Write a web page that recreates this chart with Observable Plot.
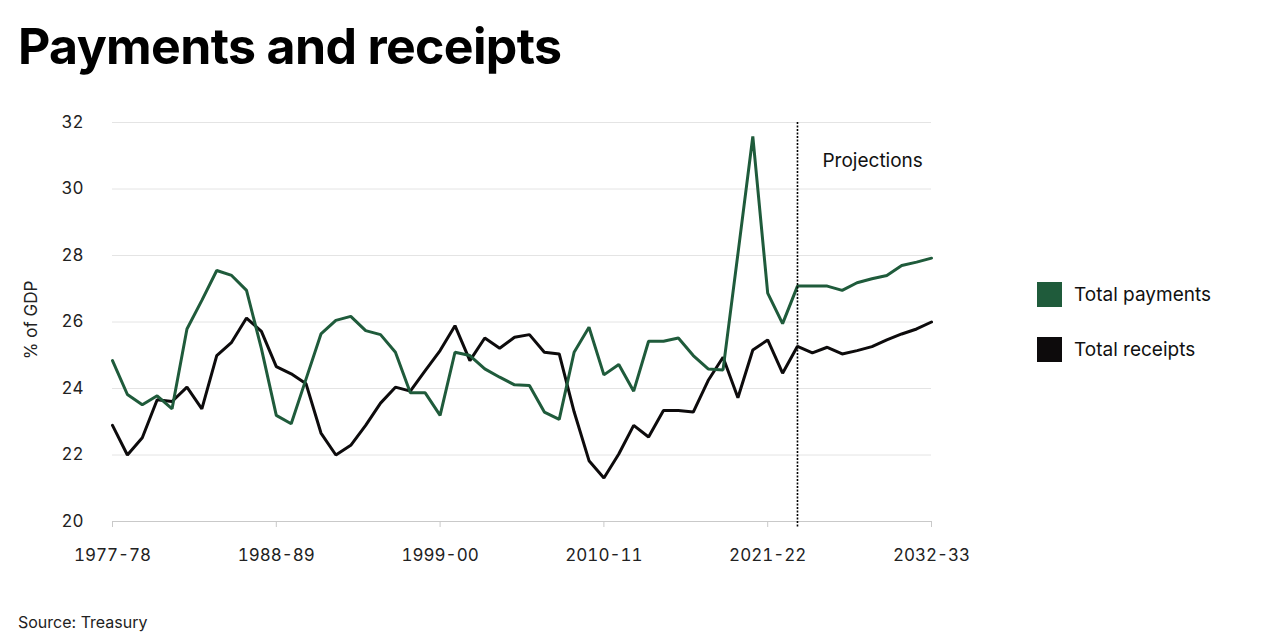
<!DOCTYPE html>
<html>
<head>
<meta charset="utf-8">
<script src="https://cdn.jsdelivr.net/npm/d3@7"></script>
<script src="https://cdn.jsdelivr.net/npm/@observablehq/plot@0.6"></script>
<style>
  html, body { margin: 0; padding: 0; background: #fff; }
  #wrap { position: relative; width: 1280px; height: 640px; overflow: hidden; font-family: Inter, "Noto Sans", sans-serif; color: #111; }
  #title { position: absolute; left: 18px; top: 16px; margin: 0; font-size: 50px; font-weight: 700; line-height: 60px; letter-spacing: -0.65px; color: #000; }
  #chart { position: absolute; left: 0; top: 90px; }
  #ylabel { position: absolute; left: 31px; top: 320px; transform: translate(-50%, -50%) rotate(-90deg); font-size: 17px; white-space: nowrap; color: #222; }
  .leg { position: absolute; left: 1037px; display: flex; align-items: center; font-size: 19px; color: #111; }
  .leg span.sw { width: 25px; height: 25px; margin-right: 12px; display: inline-block; }
  #source { position: absolute; left: 18px; top: 612px; font-size: 16px; color: #222; }
</style>
</head>
<body>
<div id="wrap">
  <h1 id="title"></h1>
  <div id="chart"></div>
  <div id="ylabel"></div>
  <div id="legend"></div>
  <div id="source"></div>
</div>
<script>
const titleText = "Payments and receipts";
const yLabelText = "% of GDP";
const sourceText = "Source: Treasury";
const projectionLabel = "Projections";

// Financial years (start year), 1977-78 to 2032-33
const years = [1977,1978,1979,1980,1981,1982,1983,1984,1985,1986,1987,1988,1989,1990,1991,1992,1993,1994,1995,1996,1997,1998,1999,2000,2001,2002,2003,2004,2005,2006,2007,2008,2009,2010,2011,2012,2013,2014,2015,2016,2017,2018,2019,2020,2021,2022,2023,2024,2025,2026,2027,2028,2029,2030,2031,2032];

const payments = [24.84,23.82,23.51,23.78,23.39,25.79,26.65,27.55,27.40,26.95,25.20,23.19,22.94,24.29,25.64,26.05,26.17,25.74,25.62,25.09,23.87,23.87,23.19,25.09,24.99,24.59,24.34,24.11,24.09,23.29,23.07,25.09,25.84,24.41,24.72,23.92,25.42,25.42,25.52,24.99,24.59,24.56,28.05,31.58,26.87,25.95,27.08,27.08,27.08,26.95,27.18,27.30,27.40,27.70,27.80,27.92];

const receipts = [22.89,22.00,22.52,23.66,23.61,24.04,23.39,24.99,25.39,26.12,25.72,24.66,24.44,24.14,22.66,22.00,22.29,22.89,23.56,24.04,23.92,24.54,25.14,25.89,24.84,25.52,25.21,25.54,25.62,25.09,25.04,23.30,21.83,21.31,22.03,22.89,22.54,23.34,23.34,23.29,24.24,24.94,23.72,25.16,25.46,24.46,25.27,25.07,25.24,25.04,25.14,25.26,25.46,25.64,25.79,26.00];

const seriesNames = ["Total payments", "Total receipts"];
const seriesColors = ["#1f5b3b", "#0d0b0c"];
const xTicks = [1977, 1988, 1999, 2010, 2021, 2032];
const yTicks = [20, 22, 24, 26, 28, 30, 32];
const projectionStart = 2023;

const fy = y => `${y}-${String((y + 1) % 100).padStart(2, "0")}`;

const rows = years.flatMap((y, i) => [
  {year: y, value: payments[i], series: seriesNames[0]},
  {year: y, value: receipts[i], series: seriesNames[1]}
]);

const chart = Plot.plot({
  width: 1280,
  height: 500,
  marginLeft: 112,
  marginRight: 349,
  marginTop: 32,
  marginBottom: 69,
  style: {fontFamily: 'Inter, "Noto Sans", sans-serif', fontSize: "17px", color: "#222", background: "transparent"},
  x: {domain: [years[0], years[years.length - 1]]},
  y: {domain: [20, 32]},
  color: {domain: seriesNames, range: seriesColors},
  marks: [
    Plot.gridY(yTicks.slice(1), {stroke: "#e4e4e4", strokeOpacity: 1, strokeWidth: 1}),
    Plot.ruleY([20], {stroke: "#c9c9c9", strokeWidth: 1}),
    Plot.axisY({ticks: yTicks, tickSize: 0, tickPadding: 29, label: null, fontSize: 17}),
    Plot.axisX({ticks: xTicks, tickFormat: fy, tickSize: 6, tickPadding: 21, stroke: "#c9c9c9", label: null, fontSize: 17}),
    Plot.line(rows.filter(d => d.series === seriesNames[1]), {x: "year", y: "value", stroke: "series", strokeWidth: 3, strokeLinejoin: "miter"}),
    Plot.line(rows.filter(d => d.series === seriesNames[0]), {x: "year", y: "value", stroke: "series", strokeWidth: 3, strokeLinejoin: "miter"}),
    Plot.ruleX([projectionStart], {y1: 32, y2: 20, insetBottom: -6, stroke: "#000", strokeWidth: 1.6, strokeDasharray: "2,1.5"}),
    Plot.text([{x: projectionStart, label: projectionLabel}], {x: "x", text: "label", frameAnchor: "top", dx: 25, dy: 31, textAnchor: "start", fontSize: 19, fill: "#111"})
  ]
});
document.getElementById("chart").appendChild(chart);

document.getElementById("title").textContent = titleText;
document.getElementById("ylabel").textContent = yLabelText;
document.getElementById("source").textContent = sourceText;

const legendTops = [282, 337];
const legend = document.getElementById("legend");
seriesNames.forEach((name, i) => {
  const item = document.createElement("div");
  item.className = "leg";
  item.style.top = legendTops[i] + "px";
  const sw = document.createElement("span");
  sw.className = "sw";
  sw.style.background = seriesColors[i];
  const label = document.createElement("span");
  label.textContent = name;
  item.appendChild(sw);
  item.appendChild(label);
  legend.appendChild(item);
});
</script>
</body>
</html>
